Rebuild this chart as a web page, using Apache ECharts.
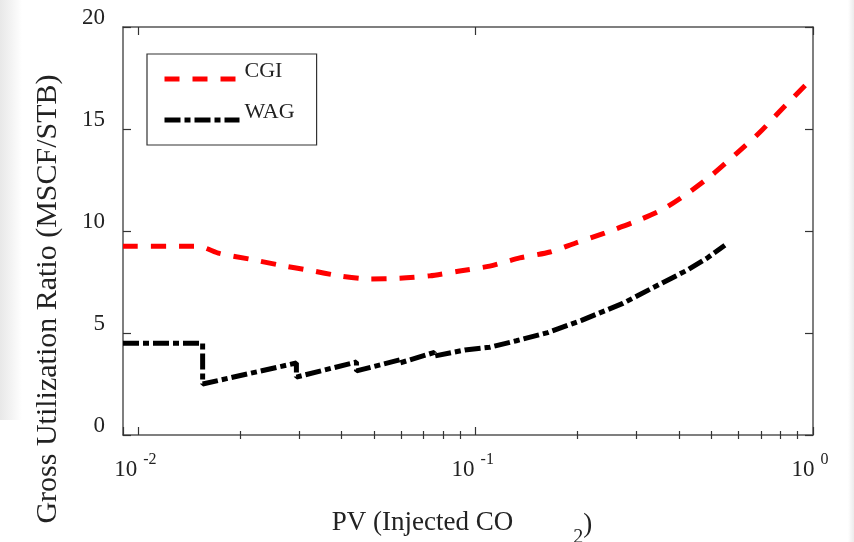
<!DOCTYPE html>
<html><head><meta charset="utf-8">
<script src="https://cdn.jsdelivr.net/npm/echarts@6/dist/echarts.min.js"></script>
<style>html,body{margin:0;padding:0;background:#fff}#c{width:854px;height:542px}</style>
</head><body><div id="c"></div>
<script>
// ---- data ----
const cgiPV    = [0.009, 0.0150, 0.0174, 0.0214, 0.0262, 0.0322, 0.0395, 0.0485, 0.0595, 0.073, 0.0896, 0.110, 0.135, 0.166, 0.197, 0.241, 0.296, 0.356, 0.426, 0.502, 0.595, 0.692, 0.804, 0.97];
const cgiRatio = [9.25, 9.25, 8.9, 8.62, 8.33, 8.07, 7.8, 7.65, 7.68, 7.8, 8.04, 8.28, 8.68, 8.97, 9.4, 9.9, 10.45, 11.03, 11.86, 12.75, 13.82, 14.8, 15.93, 17.3];
const wagPV    = [0.009, 0.0155, 0.0155, 0.0294, 0.0294, 0.0443, 0.0443, 0.0595, 0.0595, 0.0755, 0.0755, 0.0928, 0.110, 0.132, 0.1635, 0.206, 0.273, 0.352, 0.426, 0.488, 0.548];
const wagRatio = [4.5, 4.5, 2.5, 3.53, 2.84, 3.58, 3.14, 3.68, 3.53, 4.05, 3.87, 4.17, 4.3, 4.62, 5.02, 5.62, 6.45, 7.4, 8.1, 8.7, 9.3];
const seriesNames = ['CGI', 'WAG'];
const xMajorTicks = [0.01, 0.1, 1];
const xMinorTicks = [0.02, 0.03, 0.04, 0.05, 0.06, 0.07, 0.08, 0.09, 0.2, 0.3, 0.4, 0.5, 0.6, 0.7, 0.8, 0.9];
const yTicks = [0, 5, 10, 15, 20];
const xMin = 0.009, xMax = 1;
const xTitle = ['PV (Injected CO', '2', ')'];
const yTitle = 'Gross Utilization Ratio (MSCF/STB)';

// ---- chart ----
const FONT = 'Liberation Serif';
const AXC = '#555';
const TXT = '#222';
const cgiDash = [15, 13];
const wagDash = [16, 4, 6, 4];
const chart = echarts.init(document.getElementById('c'), null, {renderer: 'canvas'});

function zip(a, b) { return a.map((v, i) => [v, b[i]]); }
function isPow10(v) { const e = Math.log10(v); return Math.abs(e - Math.round(e)) < 1e-6; }

const lgMin = Math.log10(xMin), lgMax = Math.log10(xMax);
const majorLog = xMajorTicks.map(Math.log10);
const minorLog = xMinorTicks.map(Math.log10);

const commonX = {splitLine: {show: false}, gridIndex: 0};

chart.setOption({
  animation: false,
  backgroundColor: '#fff',
  grid: {left: 123, right: 41, top: 27, bottom: 107, containLabel: false, outerBoundsMode: 'none'},
  graphic: [
    {type: 'rect', left: 0, top: 0, shape: {width: 22, height: 420}, silent: true, z: -10,
     style: {fill: new echarts.graphic.LinearGradient(0, 0, 1, 0, [{offset: 0, color: '#e8e8e8'}, {offset: 0.5, color: '#f3f3f3'}, {offset: 1, color: '#ffffff'}])}},
    {type: 'rect', right: 0, top: 0, shape: {width: 6, height: 542}, silent: true, z: -10,
     style: {fill: new echarts.graphic.LinearGradient(0, 0, 1, 0, [{offset: 0, color: '#ffffff'}, {offset: 1, color: '#ececec'}])}}
  ],
  legend: {
    orient: 'vertical', left: 147, top: 54,
    padding: [6, 22, 6, 15],
    borderColor: '#333', borderWidth: 1.2,
    itemWidth: 75, itemHeight: 14, itemGap: 3,
    selectedMode: false,
    itemStyle: {opacity: 0},
    formatter: '{a|{name}}',
    textStyle: {fontFamily: FONT, fontSize: 22, color: TXT,
      rich: {a: {fontFamily: FONT, fontSize: 22, color: TXT, lineHeight: 22, padding: [0, 0, 16, 0]}}},
    data: [
      {name: seriesNames[0], lineStyle: {color: '#ff0000', width: 5, type: cgiDash, cap: 'butt'}},
      {name: seriesNames[1], lineStyle: {color: '#000000', width: 5, type: wagDash, cap: 'butt'}}
    ]
  },
  xAxis: [
    Object.assign({
      type: 'log', logBase: 10, min: xMin, max: xMax, position: 'bottom',
      name: '{m|' + xTitle[0] + '}{g|}{s|' + xTitle[1] + '}{e|' + xTitle[2] + '}',
      nameLocation: 'middle', nameGap: 63,
      nameTextStyle: {rich: {
        m: {fontFamily: FONT, fontSize: 27, color: TXT},
        e: {fontFamily: FONT, fontSize: 27, color: TXT, padding: [4, 12, 0, 0]},
        g: {width: 60},
        s: {fontFamily: FONT, fontSize: 20, color: TXT, padding: [30, 0, 0, 0]}
      }},
      axisLine: {show: true, onZero: false, lineStyle: {color: AXC, width: 1.5}},
      axisTick: {show: true, inside: true, length: 8, lineStyle: {color: '#333', width: 1.2}},
      axisLabel: {
        show: true, margin: 17,
        formatter: function (v) {
          if (!isPow10(v)) return '';
          return '{b|10}{s| ' + Math.round(Math.log10(v)) + '}';
        },
        rich: {
          b: {fontFamily: FONT, fontSize: 23, color: TXT},
          s: {fontFamily: FONT, fontSize: 16, color: TXT, padding: [0, 6, 20, 2]}
        }
      }
    }, commonX),
    Object.assign({
      type: 'value', min: lgMin, max: lgMax, position: 'bottom',
      axisLine: {show: false},
      axisTick: {show: true, inside: true, length: 4, customValues: minorLog, lineStyle: {color: '#333', width: 1.2}},
      axisLabel: {show: false}
    }, commonX),
    Object.assign({
      type: 'value', min: lgMin, max: lgMax, position: 'top',
      axisLine: {show: true, onZero: false, lineStyle: {color: AXC, width: 1.5}},
      axisTick: {show: true, inside: true, length: 8, customValues: majorLog, lineStyle: {color: '#333', width: 1.2}},
      axisLabel: {show: false}
    }, commonX),
    Object.assign({
      type: 'value', min: lgMin, max: lgMax, position: 'top',
      axisLine: {show: false},
      axisTick: {show: true, inside: true, length: 4, customValues: minorLog, lineStyle: {color: '#333', width: 1.2}},
      axisLabel: {show: false}
    }, commonX)
  ],
  yAxis: [
    {
      type: 'value', min: yTicks[0], max: yTicks[yTicks.length - 1], interval: 5, position: 'left', gridIndex: 0,
      name: '{t|' + yTitle + '}', nameLocation: 'middle', nameGap: 60, nameRotate: 90,
      nameTextStyle: {rich: {t: {fontFamily: FONT, fontSize: 30, color: TXT, padding: [0, 136, 0, 0]}}},
      axisLine: {show: true, onZero: false, lineStyle: {color: AXC, width: 1.5}},
      axisTick: {show: true, inside: true, length: 8, lineStyle: {color: '#333', width: 1.2}},
      axisLabel: {show: true, margin: 18, fontFamily: FONT, fontSize: 23, color: TXT, verticalAlign: 'bottom', lineHeight: 18},
      splitLine: {show: false}
    },
    {
      type: 'value', min: yTicks[0], max: yTicks[yTicks.length - 1], interval: 5, position: 'right', gridIndex: 0,
      axisLine: {show: true, onZero: false, lineStyle: {color: AXC, width: 1.5}},
      axisTick: {show: true, inside: true, length: 8, lineStyle: {color: '#333', width: 1.2}},
      axisLabel: {show: false},
      splitLine: {show: false}
    }
  ],
  series: [
    {
      name: seriesNames[0], type: 'line', xAxisIndex: 0, yAxisIndex: 0,
      data: zip(cgiPV, cgiRatio), symbol: 'none', smooth: 0.25, z: 3,
      itemStyle: {color: '#ff0000'},
      lineStyle: {color: '#ff0000', width: 5, type: cgiDash, cap: 'butt'}
    },
    {
      name: seriesNames[1], type: 'line', xAxisIndex: 0, yAxisIndex: 0,
      data: zip(wagPV, wagRatio), symbol: 'none', smooth: false, z: 3,
      itemStyle: {color: '#000000'},
      lineStyle: {color: '#000000', width: 5, type: wagDash, cap: 'butt'}
    }
  ]
});
</script>
</body></html>
